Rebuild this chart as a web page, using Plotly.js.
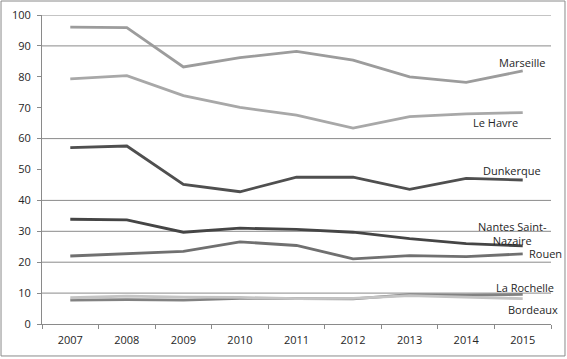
<!DOCTYPE html>
<html>
<head>
<meta charset="utf-8">
<script src="https://cdn.plot.ly/plotly-3.0.1.min.js"></script>
<style>
html,body{margin:0;padding:0;background:#fff;}
#chart{width:567px;height:359px;}
</style>
</head>
<body>
<div id="chart"></div>
<script>
var years = ['2007','2008','2009','2010','2011','2012','2013','2014','2015'];
var marseille   = [96.1, 95.9, 83.2, 86.2, 88.2, 85.4, 80.0, 78.2, 81.9];
var leHavre     = [79.3, 80.4, 73.9, 70.1, 67.6, 63.4, 67.1, 68.0, 68.4];
var dunkerque   = [57.1, 57.6, 45.2, 42.8, 47.5, 47.5, 43.6, 47.1, 46.6];
var nantes      = [33.9, 33.7, 29.7, 31.0, 30.6, 29.7, 27.6, 26.0, 25.3];
var rouen       = [22.0, 22.8, 23.5, 26.6, 25.4, 21.1, 22.1, 21.8, 22.7];
var laRochelle  = [7.7, 7.9, 7.7, 8.3, 8.2, 8.1, 9.5, 9.3, 9.6];
var bordeaux    = [8.5, 9.0, 8.7, 8.6, 8.2, 8.3, 9.2, 8.6, 8.2];
var names  = ['Marseille','Le Havre','Dunkerque','Nantes Saint-<br>Nazaire','Rouen','La Rochelle','Bordeaux'];
var colors = ['#9c9c9c','#a8a8a8','#4f4f4f','#454545','#707070','#828282','#c4c4c4'];
var gridValues = [10, 20, 30, 40, 60, 90, 100];
var yTicks = [0,10,20,30,40,50,60,70,80,90,100];

var series = [marseille, leHavre, dunkerque, nantes, rouen, laRochelle, bordeaux];
// label offsets (px) relative to last point
var labelStyle = [
  {dx:-1, dy:8, anchor:'center'},
  {dx:-27, dy:-10, anchor:'center'},
  {dx:-11, dy:10, anchor:'center'},
  {dx:-10, dy:12, anchor:'center'},
  {dx:4, dy:0, anchor:'left'},
  {dx:2, dy:7, anchor:'center'},
  {dx:10, dy:-11, anchor:'center'}
];

var font = {family:'"Open Sans", "DejaVu Sans", sans-serif', size:11, color:'#262626'};

var traces = series.map(function(s, i){
  return {x: years, y: s, type:'scatter', mode:'lines', name: names[i],
          line:{color: colors[i], width:2.8}, hoverinfo:'skip'};
});

var annotations = series.map(function(s, i){
  var st = labelStyle[i];
  return {x: years.length-1, y: s[s.length-1], xref:'x', yref:'y',
          text: names[i], showarrow:false, xanchor: st.anchor, yanchor:'middle',
          xshift: st.dx, yshift: st.dy, font: font, align:'center'};
});

var shapes = gridValues.map(function(v){
  return {type:'line', xref:'paper', yref:'y', x0:0, x1:1, y0:v, y1:v,
          line:{color:'#8a8a8a', width:1}, layer:'below'};
});
shapes.push({type:'rect', xref:'paper', yref:'paper', x0:-0.0805, x1:1.0275, y0:-0.1035, y1:1.0453,
             line:{color:'#8a8a8a', width:1}, fillcolor:'rgba(0,0,0,0)', layer:'below'});

var layout = {
  width:567, height:359,
  margin:{l:42, r:16, t:15, b:35},
  paper_bgcolor:'#ffffff', plot_bgcolor:'#ffffff',
  showlegend:false,
  font: font,
  xaxis:{type:'category', showgrid:false, zeroline:false, showline:true, linecolor:'#8a8a8a', linewidth:1,
         ticks:'outside', ticklen:4, tickcolor:'#8a8a8a', tickson:'boundaries', ticklabelstandoff:6,
         tickfont: font, range:[-0.5, 8.5], fixedrange:true},
  yaxis:{range:[0,100], tickvals:yTicks, showgrid:false, zeroline:false, showline:true, linecolor:'#8a8a8a', linewidth:1,
         ticks:'outside', ticklen:4, tickcolor:'#8a8a8a', tickfont: font, ticklabelstandoff:4, fixedrange:true},
  annotations: annotations,
  shapes: shapes
};

Plotly.newPlot('chart', traces, layout, {displayModeBar:false, staticPlot:true});
</script>
</body>
</html>
